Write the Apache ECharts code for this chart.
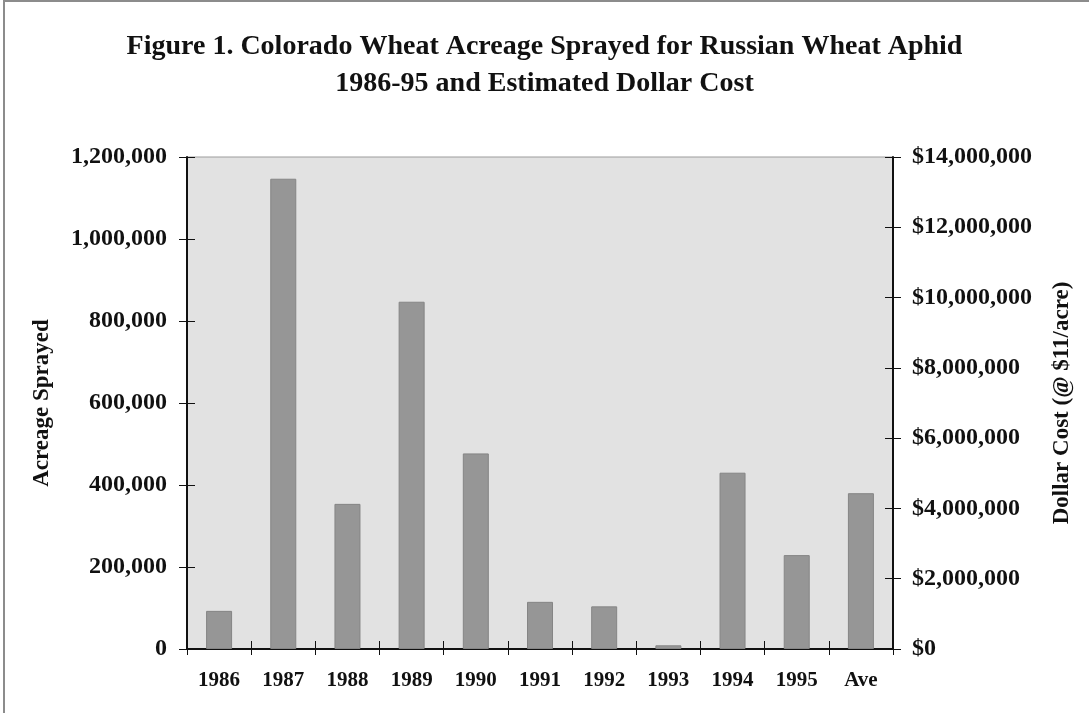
<!DOCTYPE html>
<html>
<head>
<meta charset="utf-8">
<title>Colorado Wheat Acreage Sprayed for Russian Wheat Aphid</title>
<script src="https://cdn.jsdelivr.net/npm/echarts@6/dist/echarts.min.js"></script>
<style>
  html, body { margin: 0; padding: 0; background: #ffffff; }
  #chart { width: 1089px; height: 713px; }
</style>
</head>
<body>
<div id="chart"></div>
<script>
// Season labels along the category axis
const years = ['1986', '1987', '1988', '1989', '1990', '1991', '1992', '1993', '1994', '1995', 'Ave'];
// Wheat acres sprayed in each season
const acresSprayed = [93000, 1147000, 354000, 847000, 477000, 115000, 104000, 9000, 430000, 229000, 380000];
// Left (acres) and right (dollars) axis ranges
const acreTicks = { min: 0, max: 1200000, interval: 200000 };
const dollarTicks = { min: 0, max: 14000000, interval: 2000000 };

const serif = '"Liberation Serif", "Times New Roman", serif';
const ink = '#111111';

const withCommas = v => String(Math.round(v)).replace(/\B(?=(\d{3})+(?!\d))/g, ',');

const chart = echarts.init(document.getElementById('chart'), null, { renderer: 'canvas' });

// Ticks cross their axis, so each scale is drawn twice:
// once with outward ticks and labels, once with inward ticks only.
const tickOnly = {
  axisLine: { show: false },
  axisLabel: { show: false },
  splitLine: { show: false },
  axisTick: { show: true, inside: true, length: 8, lineStyle: { color: ink, width: 1 } }
};

chart.setOption({
  backgroundColor: '#ffffff',
  animation: false,
  title: {
    text: 'Figure 1. Colorado Wheat Acreage Sprayed for Russian Wheat Aphid\n1986-95 and Estimated Dollar Cost',
    left: 'center',
    top: 23,
    textStyle: { fontFamily: serif, fontWeight: 'bold', fontSize: 28, lineHeight: 37, color: ink, align: 'center' }
  },
  graphic: [{
    type: 'rect',
    shape: { x: 4, y: 1, width: 1200, height: 800 },
    style: { fill: null, stroke: '#8c8c8c', lineWidth: 2 },
    silent: true,
    z: 100
  }],
  grid: {
    left: 187, right: 196, top: 157, bottom: 64,
    show: true,
    backgroundColor: '#e2e2e2',
    borderColor: '#9c9c9c',
    borderWidth: 1
  },
  xAxis: [{
    type: 'category',
    data: years,
    position: 'bottom',
    axisLine: { show: true, lineStyle: { color: ink, width: 2 } },
    axisTick: { show: true, length: 6, lineStyle: { color: ink, width: 1 } },
    axisLabel: { margin: 21, fontFamily: serif, fontWeight: 'bold', fontSize: 21, color: ink },
    splitLine: { show: false }
  }, Object.assign({
    type: 'category',
    data: years,
    position: 'bottom'
  }, tickOnly)],
  yAxis: [{
    type: 'value',
    position: 'left',
    min: acreTicks.min, max: acreTicks.max, interval: acreTicks.interval,
    name: 'Acreage Sprayed',
    nameLocation: 'middle',
    nameRotate: 90,
    nameGap: 133,
    nameTextStyle: { fontFamily: serif, fontWeight: 'bold', fontSize: 23, color: ink },
    axisLine: { show: true, lineStyle: { color: ink, width: 2 } },
    axisTick: { show: true, length: 8, lineStyle: { color: ink, width: 1 } },
    axisLabel: { margin: 20, fontFamily: serif, fontWeight: 'bold', fontSize: 24, color: ink, formatter: withCommas },
    splitLine: { show: false }
  }, {
    type: 'value',
    position: 'right',
    min: dollarTicks.min, max: dollarTicks.max, interval: dollarTicks.interval,
    name: 'Dollar Cost (@ $11/acre)',
    nameLocation: 'middle',
    nameRotate: 90,
    nameGap: 158,
    nameTextStyle: { fontFamily: serif, fontWeight: 'bold', fontSize: 23, color: ink },
    axisLine: { show: true, lineStyle: { color: ink, width: 2 } },
    axisTick: { show: true, length: 8, lineStyle: { color: ink, width: 1 } },
    axisLabel: { margin: 19, fontFamily: serif, fontWeight: 'bold', fontSize: 24, color: ink, formatter: v => '$' + withCommas(v) },
    splitLine: { show: false }
  }, Object.assign({
    type: 'value', position: 'left',
    min: acreTicks.min, max: acreTicks.max, interval: acreTicks.interval
  }, tickOnly), Object.assign({
    type: 'value', position: 'right',
    min: dollarTicks.min, max: dollarTicks.max, interval: dollarTicks.interval
  }, tickOnly)],
  series: [{
    type: 'bar',
    name: 'Acreage Sprayed',
    xAxisIndex: 0,
    yAxisIndex: 0,
    data: acresSprayed,
    barWidth: 26,
    itemStyle: { color: '#969696', borderColor: '#858585', borderWidth: 1 }
  }]
});
</script>
</body>
</html>
